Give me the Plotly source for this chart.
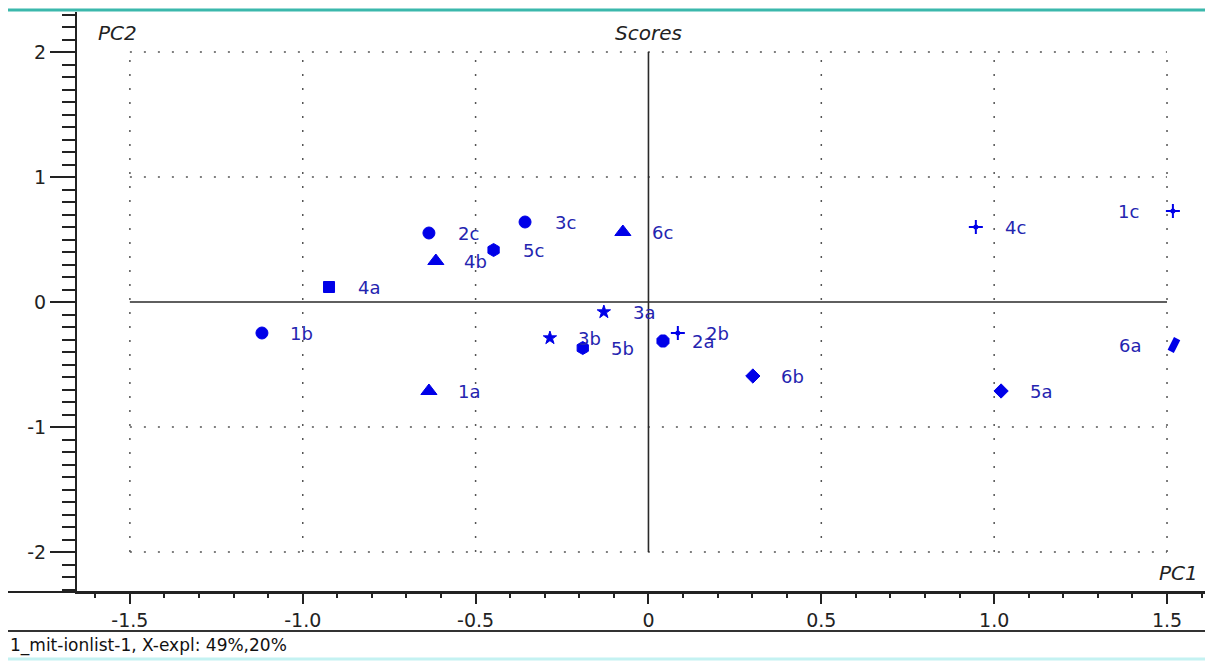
import plotly.graph_objects as go

# ---- data ----
labels = ["1a", "1b", "1c", "2a", "2b", "2c", "3a", "3b", "3c",
          "4a", "4b", "4c", "5a", "5b", "5c", "6a", "6b", "6c"]
pc1 = [-0.635, -1.118, 1.517, 0.042, 0.085, -0.635, -0.129, -0.285, -0.357,
       -0.924, -0.615, 0.947, 1.020, -0.190, -0.448, 1.520, 0.302, -0.074]
pc2 = [-0.712, -0.248, 0.728, -0.312, -0.248, 0.552, -0.080, -0.288, 0.640,
       0.120, 0.328, 0.600, -0.712, -0.368, 0.416, -0.344, -0.592, 0.560]
symbols = ["triangle-up", "circle", "cross-thin", "octagon", "cross-thin", "circle",
           "star", "star", "circle", "square", "triangle-up", "cross-thin",
           "diamond", "hexagon", "hexagon", "line-ne", "diamond", "triangle-up"]

x_ticks = [-1.5, -1.0, -0.5, 0, 0.5, 1.0, 1.5]
x_ticktext = ["-1.5", "-1.0", "-0.5", "0", "0.5", "1.0", "1.5"]
y_ticks = [-2, -1, 0, 1, 2]
y_ticktext = ["-2", "-1", "0", "1", "2"]

title_text = "Scores"
x_title = "PC1"
y_title = "PC2"
footer_text = "1_mit-ionlist-1, X-expl: 49%,20%"

# ---- style / layout (screen pixels; page body has an 8px margin) ----
OFF = 8
SL, SR, ST, SB = 77, 1213, 12, 592          # plot box on screen
W, H = 1213 - OFF, 661 - OFF
ML, MT, MR, MB = SL - OFF, ST - OFF, 0, H - (SB - OFF)
PW, PH = SR - SL, SB - ST
FONT = "DejaVu Sans, Verdana, sans-serif"
MARK = "#0000e8"
LAB = "#2424b0"
size_map = {"circle": 12, "triangle-up": 14, "cross-thin": 10, "octagon": 13,
            "star": 10, "square": 11, "diamond": 11, "hexagon": 13,
            "line-ne": 10}
lw_map = {"cross-thin": 2, "line-ne": 7}
angle_map = {"line-ne": -18}
left_labels = {"1c", "6a"}


def px(s):  # screen column -> paper x
    return (s - SL) / PW


def py(s):  # screen row -> paper y
    return (SB - s) / PH


fig = go.Figure()
fig.add_trace(go.Scatter(
    x=pc1, y=pc2, mode="markers", hoverinfo="text", text=labels,
    marker=dict(symbol=symbols, color=MARK, opacity=1,
                size=[size_map[s] for s in symbols],
                angle=[angle_map.get(s, 0) for s in symbols],
                line=dict(color=MARK, width=[lw_map.get(s, 1) for s in symbols])),
    showlegend=False))
# centre dots on the plus markers
cx = [x for x, s in zip(pc1, symbols) if s == "cross-thin"]
cy = [y for y, s in zip(pc2, symbols) if s == "cross-thin"]
fig.add_trace(go.Scatter(x=cx, y=cy, mode="markers", hoverinfo="skip",
                         marker=dict(symbol="circle", size=5, color=MARK, opacity=1),
                         showlegend=False))

shapes = []
gx = [v for v in x_ticks if v != 0]
gy = [v for v in y_ticks if v != 0]
dot = dict(color="#555555", width=1.5, dash="2px,12px")
for v in gx:
    shapes.append(dict(type="line", xref="x", yref="y", x0=v, x1=v,
                       y0=min(y_ticks), y1=max(y_ticks), line=dot, layer="below"))
for v in gy:
    shapes.append(dict(type="line", xref="x", yref="y", y0=v, y1=v,
                       x0=min(x_ticks), x1=max(x_ticks), line=dot, layer="below"))
solid = dict(color="#2a2a2a", width=1.6)
shapes.append(dict(type="line", xref="x", yref="y", x0=0, x1=0,
                   y0=min(y_ticks), y1=max(y_ticks), line=solid, layer="below"))
shapes.append(dict(type="line", xref="x", yref="y", y0=0, y1=0,
                   x0=min(x_ticks), x1=max(x_ticks), line=solid, layer="below"))
# extended bottom axis line, footer separator, decorative bars
shapes.append(dict(type="line", xref="paper", yref="paper", x0=px(OFF), x1=1,
                   y0=0, y1=0, line=dict(color="#222222", width=2)))
shapes.append(dict(type="line", xref="paper", yref="paper", x0=px(OFF), x1=1,
                   y0=py(631), y1=py(631), line=dict(color="#333333", width=2)))
shapes.append(dict(type="line", xref="paper", yref="paper", x0=px(OFF), x1=1,
                   y0=py(659), y1=py(659), line=dict(color="#c4f2f2", width=3)))
shapes.append(dict(type="line", xref="paper", yref="paper", x0=px(OFF), x1=1,
                   y0=py(10), y1=py(10), line=dict(color="#3bb8ac", width=3)))

ann = []
for lab, x, y in zip(labels, pc1, pc2):
    ann.append(dict(x=x, y=y, xref="x", yref="y", text=lab, showarrow=False,
                    xanchor="center", yanchor="middle",
                    xshift=-44 if lab in left_labels else 40,
                    font=dict(family=FONT, size=18, color=LAB)))
ital = dict(family=FONT, size=20, color="#222222", style="italic")
ann.append(dict(x=px(117), y=py(33), xref="paper", yref="paper", text=y_title,
                showarrow=False, xanchor="center", yanchor="middle", font=ital))
ann.append(dict(x=0, y=py(33), xref="x", yref="paper", text=title_text,
                showarrow=False, xanchor="center", yanchor="middle", font=ital))
ann.append(dict(x=px(1178), y=py(573), xref="paper", yref="paper", text=x_title,
                showarrow=False, xanchor="center", yanchor="middle", font=ital))
ann.append(dict(x=px(OFF), y=py(645), xref="paper", yref="paper", text=footer_text,
                showarrow=False, xanchor="left", yanchor="middle",
                font=dict(family=FONT, size=17, color="#111111")))

fig.update_layout(
    width=W, height=H, margin=dict(l=ML, r=MR, t=MT, b=MB, pad=0),
    paper_bgcolor="white", plot_bgcolor="white",
    shapes=shapes, annotations=ann, showlegend=False,
    xaxis=dict(range=[-1.653, 1.633], showgrid=False, zeroline=False,
               showline=True, linecolor="#222222", linewidth=2,
               ticks="outside", ticklen=10, tickwidth=1.5, tickcolor="#222222",
               tickmode="array", tickvals=x_ticks, ticktext=x_ticktext,
               tickfont=dict(family=FONT, size=19, color="#222222"),
               minor=dict(tickmode="linear", tick0=0, dtick=0.1, ticklen=4,
                          ticks="outside", tickcolor="#222222", tickwidth=1.5,
                          showgrid=False)),
    yaxis=dict(range=[-2.32, 2.32], showgrid=False, zeroline=False,
               showline=True, linecolor="#222222", linewidth=2,
               ticks="outside", ticklen=25, tickwidth=1.5, tickcolor="#222222",
               tickmode="array", tickvals=y_ticks, ticktext=y_ticktext,
               tickfont=dict(family=FONT, size=19, color="#222222"),
               minor=dict(tickmode="linear", tick0=0, dtick=0.1, ticklen=13,
                          ticks="outside", tickcolor="#222222", tickwidth=1.5,
                          showgrid=False)),
)

fig.write_html("out.html")
